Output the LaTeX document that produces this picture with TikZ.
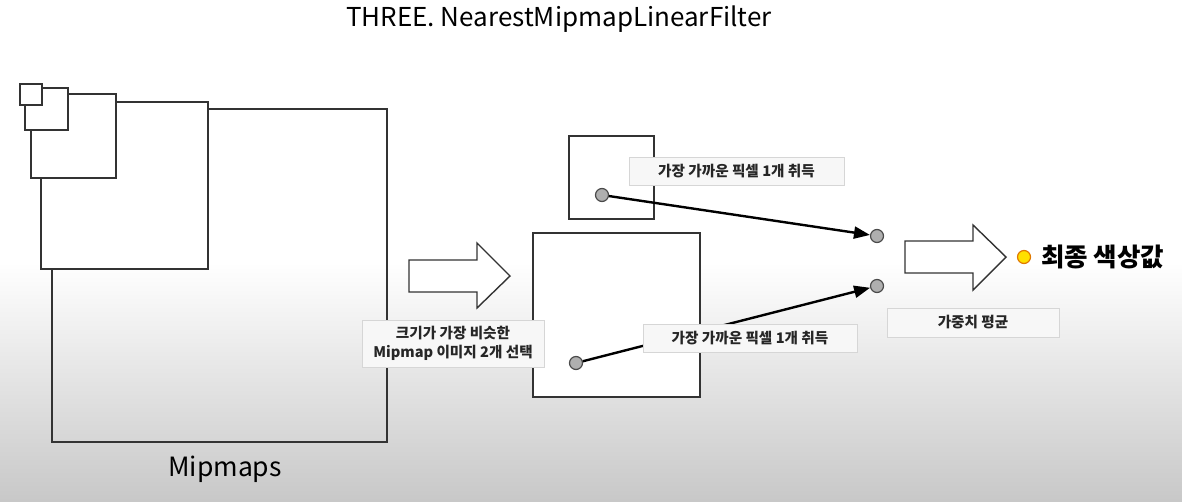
\documentclass[tikz,border=0pt]{standalone}
\usepackage{fontspec}
\setmainfont{Noto Sans CJK KR}
\usetikzlibrary{arrows.meta}
\definecolor{sqc}{HTML}{333333}
\definecolor{lblborder}{HTML}{D6D6D6}
\definecolor{lblfill}{HTML}{F7F7F7}
\definecolor{dotfill}{HTML}{AFAFAF}
\definecolor{dotdraw}{HTML}{4A4A4A}
\definecolor{bgbottom}{HTML}{C8C8C8}
\definecolor{ydot}{HTML}{FFE000}
\definecolor{ydotdraw}{HTML}{E07800}
\begin{document}
\begin{tikzpicture}[x=1pt,y=-1pt,
  sq/.style={draw=sqc, line width=1.6pt, fill=white},
  sqopen/.style={draw=sqc, line width=1.6pt},
  lbl/.style={draw=lblborder, fill=lblfill, line width=1pt, inner sep=0pt,
    font=\fontsize{14.6}{19.5}\selectfont\bfseries, align=center, text=black!85},
  pix/.style={circle, draw=dotdraw, fill=dotfill, line width=1.2pt, minimum size=13pt, inner sep=0pt},
  conn/.style={line width=2.4pt, -{Triangle[length=16pt,width=12pt]}, shorten >=0pt},
  blockarrow/.style={draw=sqc, line width=1.4pt, fill=white, line join=miter}
]
\useasboundingbox (0,0) rectangle (1182,501);
% background
\fill[white] (0,0) rectangle (1182,501);
\shade[top color=white, bottom color=bgbottom] (0,262) rectangle (1182,501);

% title
\node (title) at (559,19) {\fontsize{26}{30}\selectfont THREE. NearestMipmapLinearFilter};

% mipmap pyramid
\draw[sqopen] (52,109) rectangle (387,442);
\draw[sq] (41,102) rectangle (208,269);
\draw[sq] (31,94) rectangle (116,178);
\draw[sq] (25,88) rectangle (68,130);
\draw[sq] (20,84) rectangle (42,105);
\node (mipmaps) at (225,469) {\fontsize{26.5}{30}\selectfont Mipmaps};

% block arrow 1
\draw[blockarrow] (409,260) -- (477,260) -- (477,243) -- (510,276) -- (477,308) -- (477,292) -- (409,292) -- cycle;

% selected mipmaps
\draw[sq] (569,136) rectangle (654,219);
\draw[sq] (533,233) rectangle (700,397);

% pixels and targets
\node[pix] (p1) at (602,195) {};
\node[pix] (p2) at (576,363) {};
\node[pix] (t1) at (877,236) {};
\node[pix] (t2) at (877,286) {};
\draw[conn] (p1) -- (t1);
\draw[conn] (p2) -- (t2);

% labels
\node[lbl, minimum width=182pt, minimum height=47pt] (sel) at (453,343.5) {크기가 가장 비슷한\\Mipmap 이미지 2개 선택};
\node[lbl, minimum width=215pt, minimum height=28pt] (near1) at (736.5,171) {가장 가까운 픽셀 1개 취득};
\node[lbl, minimum width=214pt, minimum height=28pt] (near2) at (750,338) {가장 가까운 픽셀 1개 취득};
\node[lbl, minimum width=172pt, minimum height=29pt] (avg) at (973,322.5) {가중치 평균};

% block arrow 2
\draw[blockarrow] (905,241) -- (973,241) -- (973,225) -- (1006,257) -- (973,290) -- (973,273) -- (905,273) -- cycle;

% final colour
\node[circle, draw=ydotdraw, fill=ydot, line width=1.2pt, minimum size=13pt, inner sep=0pt] (final) at (1024,257) {};
\node[anchor=west, inner sep=0pt] (finaltxt) at (1041,257) {\fontsize{25.5}{30}\selectfont\bfseries 최종 색상값};
\end{tikzpicture}
\end{document}
